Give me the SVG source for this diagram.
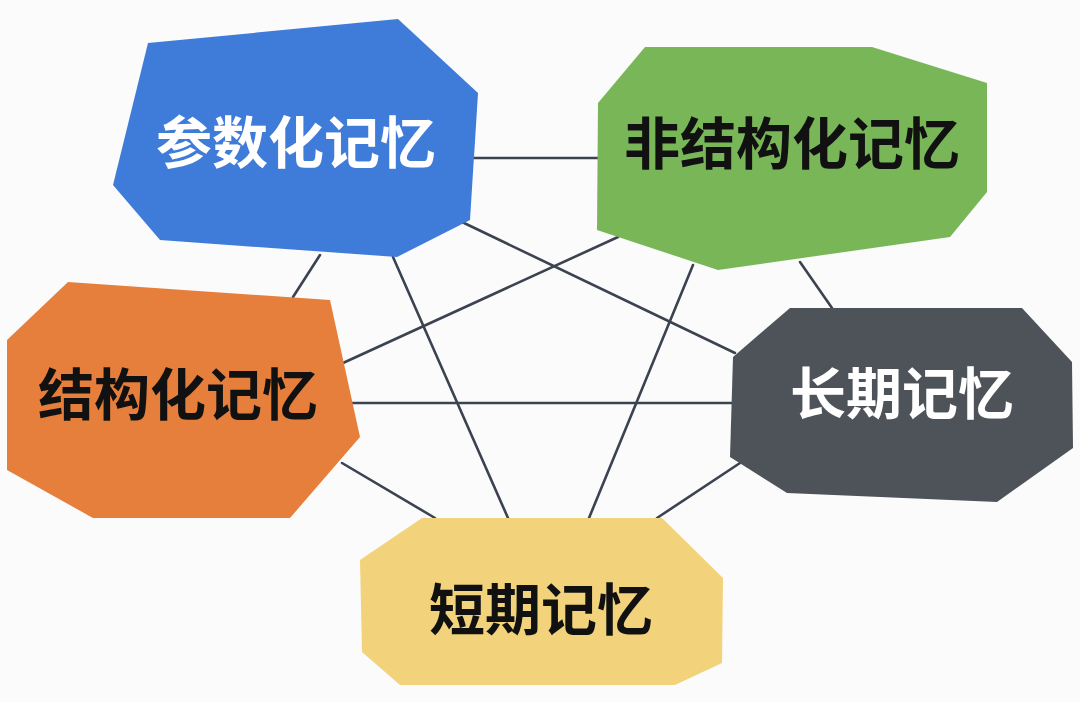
<svg xmlns="http://www.w3.org/2000/svg" width="1080" height="702" viewBox="0 0 1080 702">
<style>
.lbl{font-family:"Noto Sans CJK SC","Noto Sans",sans-serif;font-size:56px;font-weight:700;text-anchor:middle}
.w{fill:#ffffff}
.k{fill:#111111}
.edge{stroke:#3b4350;stroke-width:2.6;fill:none;stroke-linecap:round}
</style>
<rect width="1080" height="702" fill="#fbfbfb"/>
<g id="connectors">
<line class="edge" x1="470" y1="158" x2="598" y2="158"/>
<line class="edge" x1="320" y1="255" x2="293" y2="297"/>
<line class="edge" x1="393" y1="257" x2="508" y2="518"/>
<line class="edge" x1="462" y1="222" x2="735" y2="353"/>
<line class="edge" x1="618" y1="237" x2="343" y2="363"/>
<line class="edge" x1="693" y1="265" x2="589" y2="518"/>
<line class="edge" x1="800" y1="262" x2="832" y2="308"/>
<line class="edge" x1="350" y1="403" x2="732" y2="403"/>
<line class="edge" x1="342" y1="463" x2="435" y2="518"/>
<line class="edge" x1="740" y1="463" x2="657" y2="518"/>
</g>
<g id="node-param">
<polygon points="148,43 398,19 478,93 470,220 397,257 160,240 113,185" fill="#3f7bd9"/>
<text class="lbl w" x="296" y="163">参数化记忆</text>
</g>
<g id="node-unstructured">
<polygon points="645,47 872,47 987,83 987,192 950,237 718,270 597,230 598,103" fill="#79b658"/>
<text class="lbl k" x="792" y="164">非结构化记忆</text>
</g>
<g id="node-structured">
<polygon points="68,282 330,300 360,437 290,518 93,518 7,470 7,340" fill="#e67f3b"/>
<text class="lbl k" x="178" y="415">结构化记忆</text>
</g>
<g id="node-long">
<polygon points="790,308 1022,308 1072,362 1073,448 997,502 787,493 730,457 733,357" fill="#4d5358"/>
<text class="lbl w" x="902" y="414">长期记忆</text>
</g>
<g id="node-short">
<polygon points="422,518 662,518 723,578 722,663 675,685 400,685 362,652 360,560" fill="#f2d27b"/>
<text class="lbl k" x="541" y="630">短期记忆</text>
</g>
</svg>
